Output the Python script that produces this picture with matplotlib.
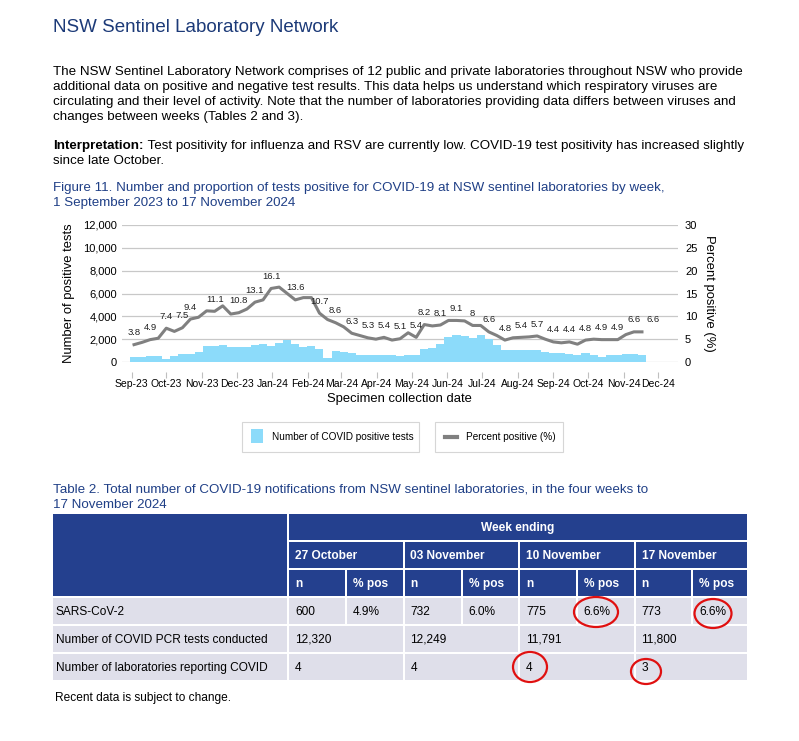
import matplotlib
matplotlib.use("Agg")
import matplotlib.pyplot as plt
import matplotlib.dates as mdates
from matplotlib.patches import Rectangle, Ellipse
from matplotlib.lines import Line2D
import pandas as pd

plt.rcParams['font.family'] = ['Liberation Sans', 'DejaVu Sans']

# ---- data (week ending Sunday) ----
week_start = '2023-09-03'
positive_tests = [440, 460, 550, 550, 260, 540, 700, 700, 890, 1380,
                  1390, 1480, 1330, 1330, 1330, 1500, 1590, 1420, 1680, 1960,
                  1620, 1280, 1400, 1120, 340, 970, 880, 780, 610, 610,
                  610, 610, 600, 530, 630, 630, 1120, 1260, 1580, 2150,
                  2350, 2290, 2120, 2350, 1990, 1530, 1060, 1060, 1060, 1060,
                  1050, 910, 760, 760, 700, 650, 770, 630, 480, 610,
                  600, 710, 730, 640]
percent_positive = [3.8, 4.3, 4.9, 5.2, 7.4, 6.7, 7.5, 9.4, 9.8, 11.2,
                    11.1, 12.3, 10.5, 10.8, 11.6, 13.1, 13.6, 16.1, 16.4, 15.0,
                    13.6, 14.1, 14.1, 10.7, 9.3, 8.6, 7.7, 6.3, 5.8, 5.3,
                    5.0, 5.4, 4.8, 5.1, 6.4, 5.4, 8.2, 7.9, 8.1, 9.1,
                    9.1, 9.0, 8.0, 8.0, 6.6, 5.8, 4.8, 5.3, 5.4, 5.5,
                    5.7, 5.0, 4.4, 4.2, 4.4, 3.9, 4.8, 5.0, 4.9, 4.9,
                    4.9, 6.0, 6.6, 6.6]
label_weeks = [0, 2, 4, 6, 7, 10, 13, 15, 17, 20, 23, 25, 27, 29, 31, 33,
               35, 36, 38, 40, 42, 44, 46, 48, 50, 52, 54, 56, 58, 60, 62, 63]
label_text = ['3.8', '4.9', '7.4', '7.5', '9.4', '11.1', '10.8', '13.1', '16.1',
              '13.6', '10.7', '8.6', '6.3', '5.3', '5.4', '5.1', '5.4', '8.2',
              '8.1', '9.1', '8', '6.6', '4.8', '5.4', '5.7', '4.4', '4.4', '4.8',
              '4.9', '4.9', '6.6', '6.6']

# ---- table ----
week_ending = ['27 October', '03 November', '10 November', '17 November']
row_labels = ['SARS-CoV-2', 'Number of COVID PCR tests conducted',
              'Number of laboratories reporting COVID']
sars_n = ['600', '732', '775', '773']
sars_pct = ['4.9%', '6.0%', '6.6%', '6.6%']
pcr_tests = ['12,320', '12,249', '11,791', '11,800']
labs = ['4', '4', '4', '3']

NAVY = '#24408e'
TITLE_C = '#1c3a78'
BLUE_TXT = '#1f3f86'
ROW_BG = '#dfdfea'
BAR_C = '#8cdbfa'
LINE_C = '#808080'
DY = 1.5  # va='center' sits a little high, nudge text down

W, H = 799, 741
fig = plt.figure(figsize=(W / 100, H / 100), dpi=100)

# page layer in pixel coordinates
page = fig.add_axes([0, 0, 1, 1])
page.set_xlim(0, W)
page.set_ylim(H, 0)
page.axis('off')


def ptext(x, y, s, **kw):
    kw.setdefault('va', 'center')
    return page.text(x, y + DY, s, **kw)


ptext(53, 26, 'NSW Sentinel Laboratory Network', fontsize=13.5, color=TITLE_C)

para = ['The NSW Sentinel Laboratory Network comprises of 12 public and private laboratories throughout NSW who provide',
        'additional data on positive and negative test results. This data helps us understand which respiratory viruses are',
        'circulating and their level of activity. Note that the number of laboratories providing data differs between viruses and',
        'changes between weeks (Tables 2 and 3).']
for i, line in enumerate(para):
    ptext(53, 70.5 + 15 * i, line, fontsize=9.6)

renderer = fig.canvas.get_renderer()
t = ptext(53, 144.5, 'Interpretation:', fontsize=9.6, weight='bold')
bb = t.get_window_extent(renderer)
ptext(bb.x1 + 1, 144.5, ' Test positivity for influenza and RSV are currently low. '
      'COVID-19 test positivity has increased slightly', fontsize=9.6)
ptext(53, 159.5, 'since late October.', fontsize=9.6)

ptext(53, 186.5, 'Figure 11. Number and proportion of tests positive for COVID-19 at '
      'NSW sentinel laboratories by week,', fontsize=9.6, color=BLUE_TXT)
ptext(53, 201.5, '1 September 2023 to 17 November 2024', fontsize=9.6, color=BLUE_TXT)

# ---- chart ----
dates = pd.date_range(week_start, periods=len(positive_tests), freq='7D')
left, right, top, bottom = 121.7, 678, 225, 362
ax = fig.add_axes([left / W, 1 - bottom / H, (right - left) / W, (bottom - top) / H])
ax.patch.set_alpha(0)
ax.bar(dates, positive_tests, width=7, color=BAR_C, linewidth=0, zorder=2)
ax.set_ylim(0, 12000)
ax.set_yticks(range(0, 12001, 2000))
ax.set_yticklabels([f'{v:,}' for v in range(0, 12001, 2000)])
ax.grid(axis='y', color='#c8c8c8', linewidth=0.9, zorder=0)
ax.set_axisbelow(True)
ax.set_xlim(pd.Timestamp('2023-08-23 07:00'), pd.Timestamp('2024-12-18 07:00'))
ax.xaxis.set_major_locator(mdates.MonthLocator())
ax.xaxis.set_major_formatter(mdates.DateFormatter('%b-%y'))
ax.tick_params(axis='x', labelsize=7.5, length=4, color='#bfbfbf', pad=1.2)
ax.tick_params(axis='y', labelsize=8, length=0, pad=3.3)
for s in ['top', 'left', 'right']:
    ax.spines[s].set_visible(False)
ax.spines['bottom'].set_position(('outward', 7))
ax.spines['bottom'].set_color('none')
ax.set_ylabel('Number of positive tests', fontsize=9.4, labelpad=6)
ax.set_xlabel('Specimen collection date', fontsize=9.4, labelpad=3)

ax2 = ax.twinx()
ax2.plot(dates, percent_positive, color=LINE_C, linewidth=2.2, zorder=3,
         solid_joinstyle='round')
ax2.set_ylim(0, 30)
ax2.set_yticks(range(0, 31, 5))
ax2.tick_params(axis='y', labelsize=8, length=0, pad=5)
for s in ['top', 'left', 'right', 'bottom']:
    ax2.spines[s].set_visible(False)
ax2.set_ylabel('Percent positive (%)', fontsize=9.4, rotation=-90, labelpad=13)
for k, (wk, txt) in enumerate(zip(label_weeks, label_text)):
    dx = 8 if k == len(label_weeks) - 1 else 0
    ax2.annotate(txt, (dates[wk], percent_positive[wk]), xytext=(dx, 8.6),
                 textcoords='offset points', ha='center', va='center',
                 fontsize=6.8, color='#222222', zorder=4)

# ---- legend boxes ----
page.add_patch(Rectangle((242, 422), 177, 30, facecolor='white',
                         edgecolor='#d6d6d6', linewidth=0.8))
page.add_patch(Rectangle((251, 429), 12, 13.5, facecolor=BAR_C, linewidth=0))
ptext(272, 436, 'Number of COVID positive tests', fontsize=7.2)
page.add_patch(Rectangle((435, 422), 128, 30, facecolor='white',
                         edgecolor='#d6d6d6', linewidth=0.8))
page.add_line(Line2D([445, 457], [437, 437], color=LINE_C, linewidth=3))
ptext(465.5, 436, 'Percent positive (%)', fontsize=7.2)

# ---- table ----
ptext(53, 488.5, 'Table 2. Total number of COVID-19 notifications from NSW sentinel '
      'laboratories, in the four weeks to', fontsize=9.6, color=BLUE_TXT)
ptext(53, 503.5, '17 November 2024', fontsize=9.6, color=BLUE_TXT)

group_x = [288, 403.5, 519, 634.5, 748]
sub_x = [345.8, 461.7, 576.7, 692.2]
rows_y = [513, 541, 569, 597, 625, 653, 681]


def cell(x0, x1, y0, y1, color):
    page.add_patch(Rectangle((x0 + 1, y0 + 1), x1 - x0 - 2, y1 - y0 - 2,
                             facecolor=color, linewidth=0))


cell(52, group_x[0], rows_y[0], rows_y[3], NAVY)
cell(group_x[0], group_x[-1], rows_y[0], rows_y[1], NAVY)
ptext((group_x[0] + group_x[-1]) / 2, 526.5, 'Week ending', fontsize=8.6,
      color='white', weight='bold', ha='center')
for g in range(4):
    x0, x1, xs = group_x[g], group_x[g + 1], sub_x[g]
    cell(x0, x1, rows_y[1], rows_y[2], NAVY)
    ptext(x0 + 7, 554.5, week_ending[g], fontsize=8.6, color='white', weight='bold')
    cell(x0, xs, rows_y[2], rows_y[3], NAVY)
    cell(xs, x1, rows_y[2], rows_y[3], NAVY)
    ptext(x0 + 7, 582.5, 'n', fontsize=8.6, color='white', weight='bold')
    ptext(xs + 7, 582.5, '% pos', fontsize=8.6, color='white', weight='bold')
    # data rows
    cell(x0, xs, rows_y[3], rows_y[4], ROW_BG)
    cell(xs, x1, rows_y[3], rows_y[4], ROW_BG)
    ptext(x0 + 7, 610.5, sars_n[g], fontsize=8.6)
    ptext(xs + 7, 610.5, sars_pct[g], fontsize=8.6)
    cell(x0, x1, rows_y[4], rows_y[5], ROW_BG)
    ptext(x0 + 7, 638.5, pcr_tests[g], fontsize=8.6)
    cell(x0, x1, rows_y[5], rows_y[6], ROW_BG)
    ptext(x0 + 7, 666.5, labs[g], fontsize=8.6)

for r, lab in enumerate(row_labels):
    cell(52, group_x[0], rows_y[3 + r], rows_y[4 + r], ROW_BG)
    ptext(56, 610.5 + 28 * r, lab, fontsize=8.6)

ptext(55, 696.5, 'Recent data is subject to change.', fontsize=8.6)

# red highlight circles
for cx, cy, w, h in [(596, 612, 44, 30), (713, 613.5, 37, 29),
                     (530, 667, 34, 30), (646, 671.5, 30, 25)]:
    page.add_patch(Ellipse((cx, cy), w, h, facecolor='none', edgecolor='#e01010',
                           linewidth=1.6))

fig.savefig('out.png', dpi=100)
